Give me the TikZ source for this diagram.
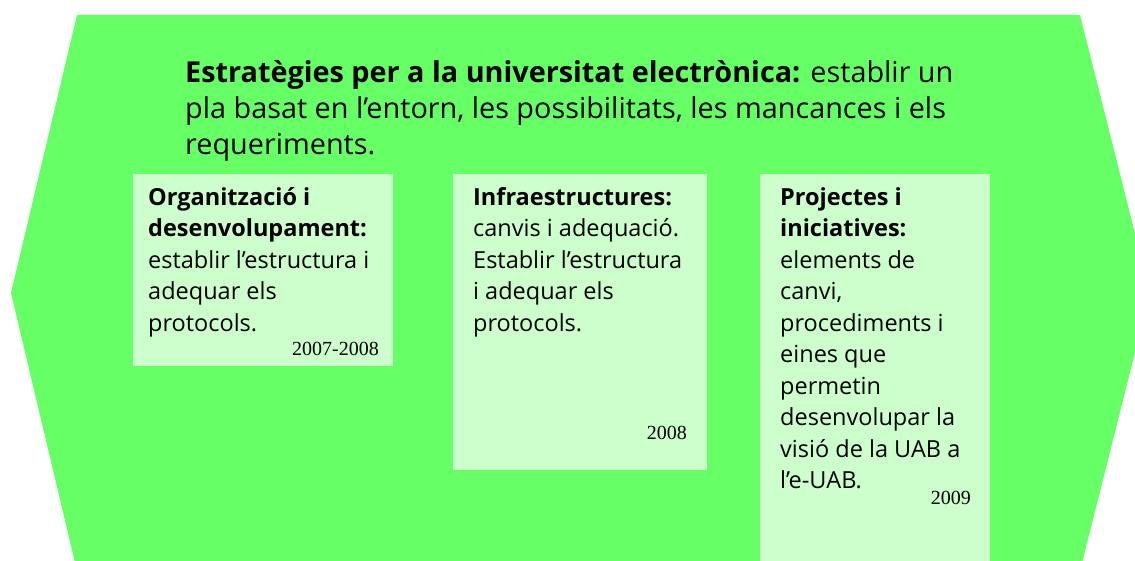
\documentclass[tikz,border=0pt]{standalone}
\usepackage{fontspec}
\setmainfont{Open Sans}
\newfontfamily\yearfont{Liberation Serif}
\usetikzlibrary{positioning}
\definecolor{hexgreen}{RGB}{102,255,102}
\definecolor{panelgreen}{RGB}{204,255,204}
\begin{document}
\begin{tikzpicture}[x=1pt, y=-1pt,
    panel/.style = {fill=panelgreen, rectangle, anchor=north west, inner sep=0pt},
    body/.style = {anchor=north west, align=left, inner sep=0pt, font=\fontsize{23.5}{31.5}\selectfont},
    year/.style = {anchor=base east, inner sep=0pt, font=\yearfont\fontsize{20}{22}\selectfont}]
    \useasboundingbox (0,0) rectangle (1135,561);
    % background shape
    \fill[hexgreen] (77,15) -- (1080,15) -- (1150,293) -- (1080,571) -- (77,571) -- (11,293) -- cycle;
    \node[anchor=north west, align=left, inner sep=0pt, font=\fontsize{28.8}{36}\selectfont] (title) at (185,60)
        {\textbf{Estratègies per a la universitat electrònica:} establir un\\
         pla basat en l’entorn, les possibilitats, les mancances i els\\
         requeriments.};
    % panels
    \node[panel, minimum width=260pt, minimum height=192pt] (org) at (133,174) {};
    \node[panel, minimum width=254pt, minimum height=296pt] (infra) at (453,174) {};
    \node[panel, minimum width=230pt, minimum height=400pt] (proj) at (760,174) {};
    \node[body] (orgtxt) at ([xshift=15pt, yshift=-13pt]org.north west)
        {\textbf{Organització i}\\ \textbf{desenvolupament:}\\ establir l’estructura i\\ adequar els\\ protocols.};
    \node[body] (infratxt) at ([xshift=20pt, yshift=-13pt]infra.north west)
        {\textbf{Infraestructures:}\\ canvis i adequació.\\ Establir l’estructura\\ i adequar els\\ protocols.};
    \node[body] (projtxt) at ([xshift=20pt, yshift=-13pt]proj.north west)
        {\textbf{Projectes i}\\ \textbf{iniciatives:}\\ elements de\\ canvi,\\ procediments i\\ eines que\\ permetin\\ desenvolupar la\\ visió de la UAB a\\ l’e-UAB.};
    \node[year] (orgyear) at (379,355) {2007-2008};
    \node[year] (infrayear) at (687,439) {2008};
    \node[year] (projyear) at (971,504) {2009};
\end{tikzpicture}
\end{document}
